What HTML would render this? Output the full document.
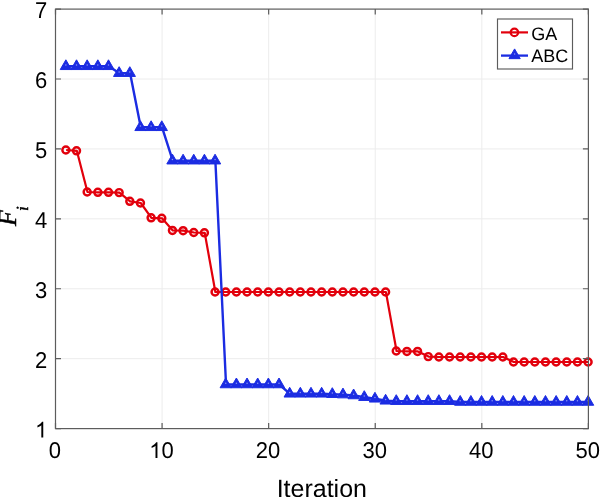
<!DOCTYPE html>
<html><head><meta charset="utf-8"><title>Chart</title>
<style>html,body{margin:0;padding:0;background:#fff;width:600px;height:497px;overflow:hidden}svg{display:block;filter:blur(0.3px)}text{text-rendering:geometricPrecision}</style>
</head><body>
<svg width="600" height="497" viewBox="0 0 600 497"><rect width="600" height="497" fill="#ffffff"/><path d="M162.08 9.10V428.60M268.66 9.10V428.60M375.24 9.10V428.60M481.82 9.10V428.60M55.50 358.68H588.40M55.50 288.77H588.40M55.50 218.85H588.40M55.50 148.93H588.40M55.50 79.02H588.40" stroke="#ececec" stroke-width="1" fill="none"/><polyline points="66.16,150.00 76.82,150.80 87.47,192.00 98.13,192.30 108.79,192.30 119.45,192.60 130.11,201.30 140.76,203.00 151.42,217.80 162.08,218.30 172.74,230.40 183.40,230.70 194.05,232.50 204.71,232.80 215.37,292.00 226.03,292.00 236.69,292.00 247.34,292.00 258.00,292.00 268.66,292.00 279.32,292.00 289.98,292.00 300.63,292.00 311.29,292.00 321.95,292.00 332.61,292.00 343.27,292.00 353.92,292.00 364.58,292.00 375.24,292.00 385.90,292.00 396.56,351.00 407.21,351.40 417.87,351.40 428.53,356.60 439.19,357.00 449.85,357.00 460.50,357.00 471.16,357.00 481.82,357.00 492.48,357.00 503.14,357.00 513.79,362.00 524.45,362.00 535.11,362.00 545.77,362.00 556.43,362.00 567.08,362.00 577.74,362.00 588.40,362.00" fill="none" stroke="#e2000c" stroke-width="2.2" stroke-linejoin="round"/><g fill="none" stroke="#e2000c" stroke-width="2.45"><circle cx="65.86" cy="150.00" r="3.5"/><circle cx="76.52" cy="150.80" r="3.5"/><circle cx="87.17" cy="192.00" r="3.5"/><circle cx="97.83" cy="192.30" r="3.5"/><circle cx="108.49" cy="192.30" r="3.5"/><circle cx="119.15" cy="192.60" r="3.5"/><circle cx="129.81" cy="201.30" r="3.5"/><circle cx="140.46" cy="203.00" r="3.5"/><circle cx="151.12" cy="217.80" r="3.5"/><circle cx="161.78" cy="218.30" r="3.5"/><circle cx="172.44" cy="230.40" r="3.5"/><circle cx="183.10" cy="230.70" r="3.5"/><circle cx="193.75" cy="232.50" r="3.5"/><circle cx="204.41" cy="232.80" r="3.5"/><circle cx="215.07" cy="292.00" r="3.5"/><circle cx="225.73" cy="292.00" r="3.5"/><circle cx="236.39" cy="292.00" r="3.5"/><circle cx="247.04" cy="292.00" r="3.5"/><circle cx="257.70" cy="292.00" r="3.5"/><circle cx="268.36" cy="292.00" r="3.5"/><circle cx="279.02" cy="292.00" r="3.5"/><circle cx="289.68" cy="292.00" r="3.5"/><circle cx="300.33" cy="292.00" r="3.5"/><circle cx="310.99" cy="292.00" r="3.5"/><circle cx="321.65" cy="292.00" r="3.5"/><circle cx="332.31" cy="292.00" r="3.5"/><circle cx="342.97" cy="292.00" r="3.5"/><circle cx="353.62" cy="292.00" r="3.5"/><circle cx="364.28" cy="292.00" r="3.5"/><circle cx="374.94" cy="292.00" r="3.5"/><circle cx="385.60" cy="292.00" r="3.5"/><circle cx="396.26" cy="351.00" r="3.5"/><circle cx="406.91" cy="351.40" r="3.5"/><circle cx="417.57" cy="351.40" r="3.5"/><circle cx="428.23" cy="356.60" r="3.5"/><circle cx="438.89" cy="357.00" r="3.5"/><circle cx="449.55" cy="357.00" r="3.5"/><circle cx="460.20" cy="357.00" r="3.5"/><circle cx="470.86" cy="357.00" r="3.5"/><circle cx="481.52" cy="357.00" r="3.5"/><circle cx="492.18" cy="357.00" r="3.5"/><circle cx="502.84" cy="357.00" r="3.5"/><circle cx="513.49" cy="362.00" r="3.5"/><circle cx="524.15" cy="362.00" r="3.5"/><circle cx="534.81" cy="362.00" r="3.5"/><circle cx="545.47" cy="362.00" r="3.5"/><circle cx="556.13" cy="362.00" r="3.5"/><circle cx="566.78" cy="362.00" r="3.5"/><circle cx="577.44" cy="362.00" r="3.5"/><circle cx="588.10" cy="362.00" r="3.5"/></g><polyline points="66.16,66.30 76.82,66.30 87.47,66.30 98.13,66.30 108.79,66.30 119.45,73.20 130.11,73.20 140.76,127.30 151.42,127.30 162.08,127.30 172.74,160.70 183.40,160.70 194.05,160.70 204.71,160.70 215.37,160.70 226.03,384.50 236.69,384.50 247.34,384.50 258.00,384.50 268.66,384.50 279.32,384.50 289.98,393.80 300.63,393.80 311.29,393.80 321.95,393.80 332.61,394.20 343.27,394.60 353.92,395.50 364.58,397.20 375.24,398.80 385.90,400.80 396.56,401.20 407.21,401.20 417.87,401.20 428.53,401.20 439.19,401.20 449.85,401.20 460.50,402.00 471.16,402.00 481.82,402.00 492.48,402.00 503.14,402.00 513.79,402.00 524.45,402.00 535.11,402.00 545.77,402.00 556.43,402.00 567.08,402.00 577.74,402.00 588.40,402.00" fill="none" stroke="#1b2ce2" stroke-width="2.4" stroke-linejoin="round"/><path d="M65.86 59.80L71.49 69.55L60.23 69.55ZM76.52 59.80L82.15 69.55L70.89 69.55ZM87.17 59.80L92.80 69.55L81.54 69.55ZM97.83 59.80L103.46 69.55L92.20 69.55ZM108.49 59.80L114.12 69.55L102.86 69.55ZM119.15 66.70L124.78 76.45L113.52 76.45ZM129.81 66.70L135.43 76.45L124.18 76.45ZM140.46 120.80L146.09 130.55L134.84 130.55ZM151.12 120.80L156.75 130.55L145.49 130.55ZM161.78 120.80L167.41 130.55L156.15 130.55ZM172.44 154.20L178.07 163.95L166.81 163.95ZM183.10 154.20L188.72 163.95L177.47 163.95ZM193.75 154.20L199.38 163.95L188.12 163.95ZM204.41 154.20L210.04 163.95L198.78 163.95ZM215.07 154.20L220.70 163.95L209.44 163.95ZM225.73 378.00L231.36 387.75L220.10 387.75ZM236.39 378.00L242.01 387.75L230.76 387.75ZM247.04 378.00L252.67 387.75L241.41 387.75ZM257.70 378.00L263.33 387.75L252.07 387.75ZM268.36 378.00L273.99 387.75L262.73 387.75ZM279.02 378.00L284.65 387.75L273.39 387.75ZM289.68 387.30L295.31 397.05L284.05 397.05ZM300.33 387.30L305.96 397.05L294.70 397.05ZM310.99 387.30L316.62 397.05L305.36 397.05ZM321.65 387.30L327.28 397.05L316.02 397.05ZM332.31 387.70L337.94 397.45L326.68 397.45ZM342.97 388.10L348.59 397.85L337.34 397.85ZM353.62 389.00L359.25 398.75L347.99 398.75ZM364.28 390.70L369.91 400.45L358.65 400.45ZM374.94 392.30L380.57 402.05L369.31 402.05ZM385.60 394.30L391.23 404.05L379.97 404.05ZM396.26 394.70L401.88 404.45L390.63 404.45ZM406.91 394.70L412.54 404.45L401.28 404.45ZM417.57 394.70L423.20 404.45L411.94 404.45ZM428.23 394.70L433.86 404.45L422.60 404.45ZM438.89 394.70L444.52 404.45L433.26 404.45ZM449.55 394.70L455.18 404.45L443.92 404.45ZM460.20 395.50L465.83 405.25L454.57 405.25ZM470.86 395.50L476.49 405.25L465.23 405.25ZM481.52 395.50L487.15 405.25L475.89 405.25ZM492.18 395.50L497.81 405.25L486.55 405.25ZM502.84 395.50L508.46 405.25L497.21 405.25ZM513.49 395.50L519.12 405.25L507.87 405.25ZM524.15 395.50L529.78 405.25L518.52 405.25ZM534.81 395.50L540.44 405.25L529.18 405.25ZM545.47 395.50L551.10 405.25L539.84 405.25ZM556.13 395.50L561.75 405.25L550.50 405.25ZM566.78 395.50L572.41 405.25L561.15 405.25ZM577.44 395.50L583.07 405.25L571.81 405.25ZM588.10 395.50L593.73 405.25L582.47 405.25Z" fill="#1b2ce2" stroke="#1b2ce2" stroke-width="1" stroke-linejoin="miter"/><g fill="#8c96f4"><circle cx="65.86" cy="65.00" r="0.75"/><circle cx="76.52" cy="65.00" r="0.75"/><circle cx="87.17" cy="65.00" r="0.75"/><circle cx="97.83" cy="65.00" r="0.75"/><circle cx="108.49" cy="65.00" r="0.75"/><circle cx="119.15" cy="71.90" r="0.75"/><circle cx="129.81" cy="71.90" r="0.75"/><circle cx="140.46" cy="126.00" r="0.75"/><circle cx="151.12" cy="126.00" r="0.75"/><circle cx="161.78" cy="126.00" r="0.75"/><circle cx="172.44" cy="159.40" r="0.75"/><circle cx="183.10" cy="159.40" r="0.75"/><circle cx="193.75" cy="159.40" r="0.75"/><circle cx="204.41" cy="159.40" r="0.75"/><circle cx="215.07" cy="159.40" r="0.75"/><circle cx="225.73" cy="383.20" r="0.75"/><circle cx="236.39" cy="383.20" r="0.75"/><circle cx="247.04" cy="383.20" r="0.75"/><circle cx="257.70" cy="383.20" r="0.75"/><circle cx="268.36" cy="383.20" r="0.75"/><circle cx="279.02" cy="383.20" r="0.75"/><circle cx="289.68" cy="392.50" r="0.75"/><circle cx="300.33" cy="392.50" r="0.75"/><circle cx="310.99" cy="392.50" r="0.75"/><circle cx="321.65" cy="392.50" r="0.75"/><circle cx="332.31" cy="392.90" r="0.75"/><circle cx="342.97" cy="393.30" r="0.75"/><circle cx="353.62" cy="394.20" r="0.75"/><circle cx="364.28" cy="395.90" r="0.75"/><circle cx="374.94" cy="397.50" r="0.75"/><circle cx="385.60" cy="399.50" r="0.75"/><circle cx="396.26" cy="399.90" r="0.75"/><circle cx="406.91" cy="399.90" r="0.75"/><circle cx="417.57" cy="399.90" r="0.75"/><circle cx="428.23" cy="399.90" r="0.75"/><circle cx="438.89" cy="399.90" r="0.75"/><circle cx="449.55" cy="399.90" r="0.75"/><circle cx="460.20" cy="400.70" r="0.75"/><circle cx="470.86" cy="400.70" r="0.75"/><circle cx="481.52" cy="400.70" r="0.75"/><circle cx="492.18" cy="400.70" r="0.75"/><circle cx="502.84" cy="400.70" r="0.75"/><circle cx="513.49" cy="400.70" r="0.75"/><circle cx="524.15" cy="400.70" r="0.75"/><circle cx="534.81" cy="400.70" r="0.75"/><circle cx="545.47" cy="400.70" r="0.75"/><circle cx="556.13" cy="400.70" r="0.75"/><circle cx="566.78" cy="400.70" r="0.75"/><circle cx="577.44" cy="400.70" r="0.75"/><circle cx="588.10" cy="400.70" r="0.75"/></g><rect x="55.5" y="9.1" width="532.90" height="419.50" fill="none" stroke="#5c5c5c" stroke-width="1.2"/><path d="M55.50 428.60v-5.5M55.50 9.10v5.5M162.08 428.60v-5.5M162.08 9.10v5.5M268.66 428.60v-5.5M268.66 9.10v5.5M375.24 428.60v-5.5M375.24 9.10v5.5M481.82 428.60v-5.5M481.82 9.10v5.5M588.40 428.60v-5.5M588.40 9.10v5.5M55.50 428.60h5.5M588.40 428.60h-5.5M55.50 358.68h5.5M588.40 358.68h-5.5M55.50 288.77h5.5M588.40 288.77h-5.5M55.50 218.85h5.5M588.40 218.85h-5.5M55.50 148.93h5.5M588.40 148.93h-5.5M55.50 79.02h5.5M588.40 79.02h-5.5M55.50 9.10h5.5M588.40 9.10h-5.5" stroke="#5c5c5c" stroke-width="1.2" fill="none"/><g font-family="Liberation Sans, sans-serif" font-size="22.0" fill="#000"><text transform="translate(54.90 458.00) scale(1 1.034)" text-anchor="middle">0</text><text transform="translate(161.48 458.00) scale(1 1.034)">0</text><text transform="translate(268.06 458.00) scale(1 1.034)" text-anchor="middle">20</text><text transform="translate(374.64 458.00) scale(1 1.034)" text-anchor="middle">30</text><text transform="translate(481.22 458.00) scale(1 1.034)" text-anchor="middle">40</text><text transform="translate(587.80 458.00) scale(1 1.034)" text-anchor="middle">50</text><text transform="translate(47.30 367.53) scale(1 1.034)" text-anchor="end">2</text><text transform="translate(47.30 297.62) scale(1 1.034)" text-anchor="end">3</text><text transform="translate(47.30 227.70) scale(1 1.034)" text-anchor="end">4</text><text transform="translate(47.30 157.78) scale(1 1.034)" text-anchor="end">5</text><text transform="translate(47.30 87.87) scale(1 1.034)" text-anchor="end">6</text><text transform="translate(47.30 17.95) scale(1 1.034)" text-anchor="end">7</text><path transform="translate(149.24 458.00) scale(0.01074 -0.01074)" d="M763 0L583 0L583 1147Q518 1085 412 1023Q306 961 222 930L222 1104Q373 1175 486 1276Q599 1377 646 1472L763 1472Z"/><path transform="translate(35.06 437.45) scale(0.01074 -0.01074)" d="M763 0L583 0L583 1147Q518 1085 412 1023Q306 961 222 930L222 1104Q373 1175 486 1276Q599 1377 646 1472L763 1472Z"/></g><text x="321.8" y="497.2" text-anchor="middle" font-family="Liberation Sans, sans-serif" font-size="25" fill="#000">Iteration</text><g transform="translate(15.6,226) rotate(-90)"><text x="0" y="0" font-family="Liberation Serif, serif" font-style="italic" font-size="26" fill="#000" stroke="#000" stroke-width="0.5">F<tspan font-size="17" dy="12" dx="-1">i</tspan></text></g><rect x="497.5" y="19" width="75" height="50" fill="#fff" stroke="#5c5c5c" stroke-width="1.15"/><path d="M501 32.4H528" stroke="#e2000c" stroke-width="2.2"/><circle cx="514.4" cy="32.4" r="3.7" fill="none" stroke="#e2000c" stroke-width="2.3"/><path d="M501 55.6H528" stroke="#1b2ce2" stroke-width="2.3"/><path d="M514.6 48.90L520.23 58.65L508.97 58.65Z" fill="#1b2ce2" stroke="#1b2ce2" stroke-width="1"/><circle cx="514.6" cy="54.10" r="0.75" fill="#8c96f4"/><g font-family="Liberation Sans, sans-serif" font-size="18" fill="#000"><text x="531.3" y="39.5">GA</text><text x="531.3" y="62.1">ABC</text></g></svg>
</body></html>
